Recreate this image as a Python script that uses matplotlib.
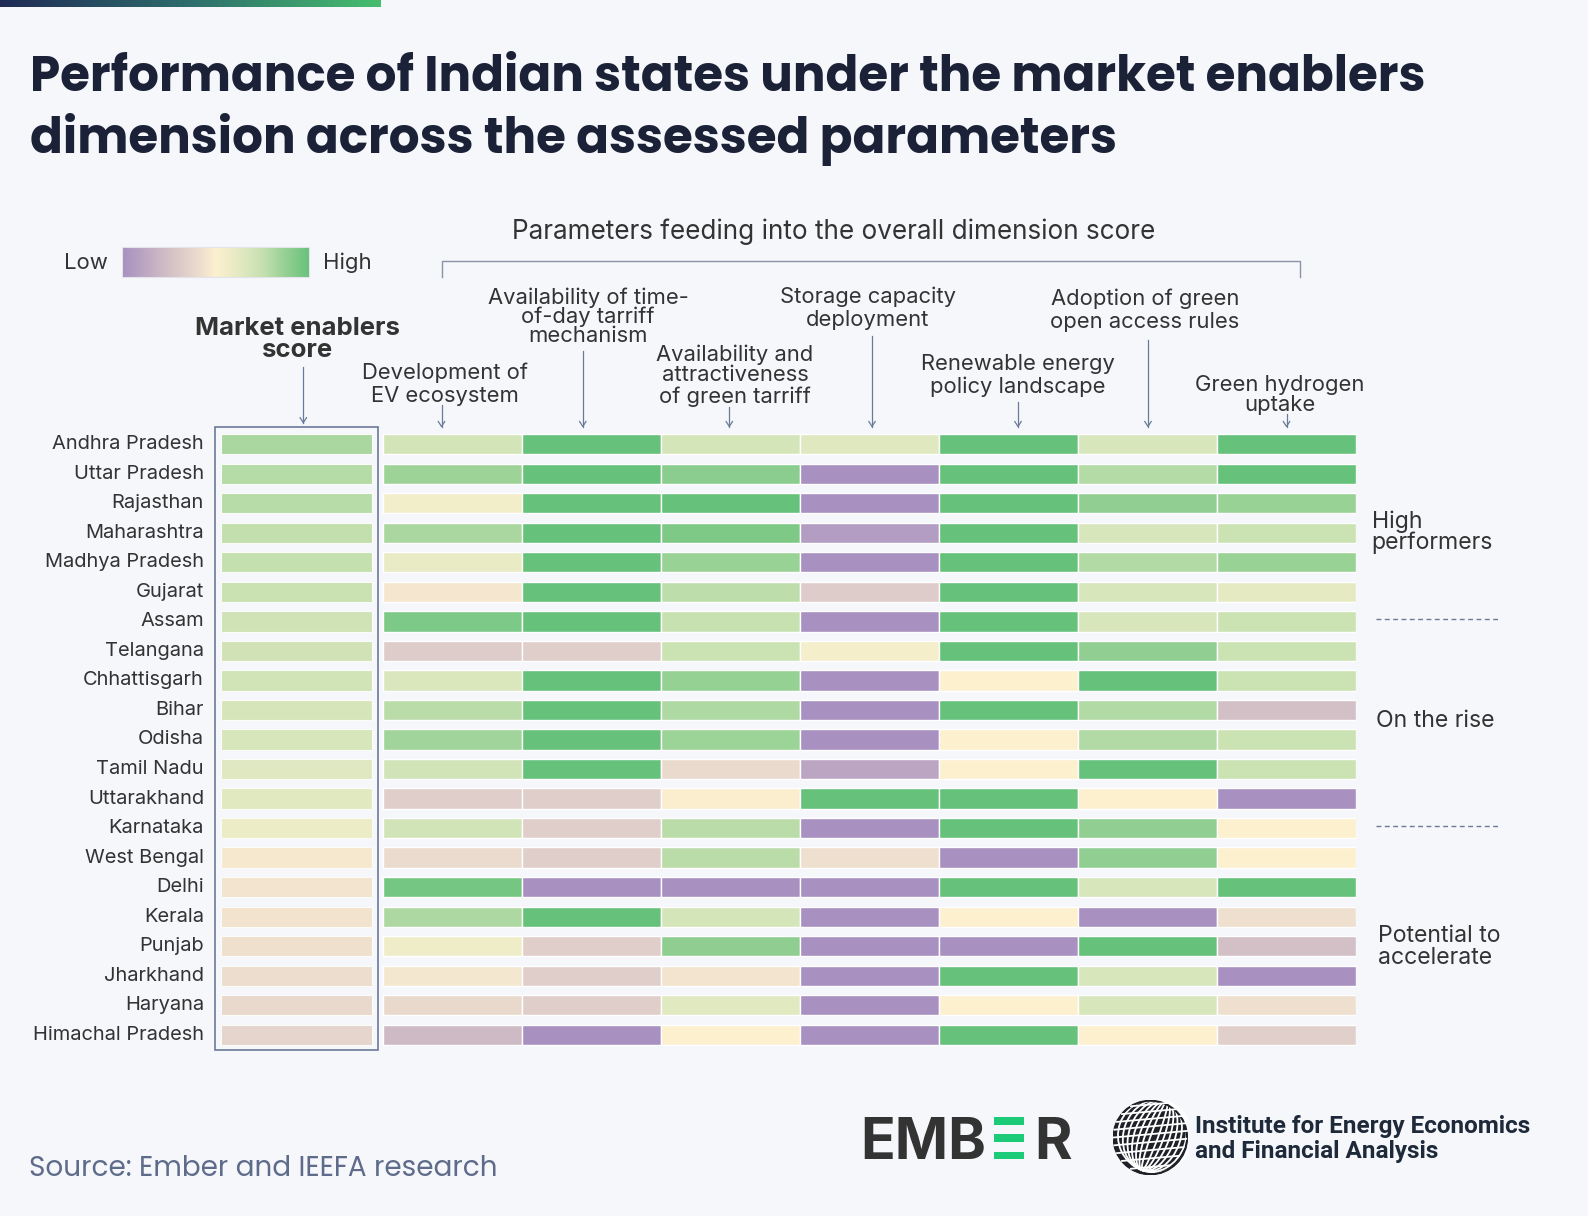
import numpy as np
import matplotlib.pyplot as plt
from matplotlib.colors import LinearSegmentedColormap
from matplotlib.patches import Rectangle, Circle, Ellipse

W, H = 1588, 1216
BG = '#F5F7FB'
DARK = '#333333'
LINE = '#6B7A99'

# data: colour position of each cell on the Low (0) -> High (1) scale
states = ['Andhra Pradesh', 'Uttar Pradesh', 'Rajasthan', 'Maharashtra', 'Madhya Pradesh',
          'Gujarat', 'Assam', 'Telangana', 'Chhattisgarh', 'Bihar', 'Odisha', 'Tamil Nadu',
          'Uttarakhand', 'Karnataka', 'West Bengal', 'Delhi', 'Kerala', 'Punjab',
          'Jharkhand', 'Haryana', 'Himachal Pradesh']

market_score = [0.82, 0.79, 0.785, 0.76, 0.75, 0.733, 0.708, 0.704, 0.70, 0.679, 0.675,
                0.641, 0.637, 0.583, 0.462, 0.443, 0.438, 0.424, 0.41, 0.39, 0.367]
ev_ecosystem = [0.695, 0.85, 0.547, 0.82, 0.60, 0.45, 0.935, 0.32, 0.665, 0.78, 0.84,
                0.70, 0.33, 0.70, 0.40, 0.96, 0.81, 0.57, 0.455, 0.39, 0.22]
tod_tariff = [1, 1, 1, 1, 1, 1, 1, 0.33, 1, 1, 1, 1, 0.33, 0.33, 0.33, 0, 1, 0.33,
              0.33, 0.33, 0]
green_tariff = [0.69, 0.9, 1.0, 0.93, 0.86, 0.77, 0.74, 0.73, 0.87, 0.805, 0.855, 0.395,
                0.49, 0.78, 0.78, 0, 0.69, 0.89, 0.443, 0.64, 0.5]
storage = [0.645, 0, 0, 0.07, 0, 0.32, 0, 0.54, 0, 0, 0, 0.11, 1, 0, 0.42, 0, 0, 0, 0, 0, 0]
re_policy = [1, 1, 1, 1, 1, 1, 1, 1, 0.5, 1, 0.5, 0.5, 1, 1, 0, 1, 0.5, 0, 1, 0.5, 1]
open_access = [0.675, 0.795, 0.885, 0.675, 0.8, 0.675, 0.675, 0.885, 1, 0.8, 0.8, 1, 0.5,
               0.885, 0.885, 0.675, 0, 1, 0.675, 0.675, 0.5]
hydrogen = [1, 1, 0.86, 0.73, 0.86, 0.62, 0.73, 0.73, 0.73, 0.25, 0.73, 0.73, 0, 0.5, 0.5,
            1, 0.42, 0.25, 0, 0.42, 0.335]

params = [ev_ecosystem, tod_tariff, green_tariff, storage, re_policy, open_access, hydrogen]

param_labels = [
    (['Development of', 'EV ecosystem'], 445, [373, 396]),
    (['Availability of time-', 'of-day tarriff', 'mechanism'], 588, [298, 317, 336]),
    (['Availability and', 'attractiveness', 'of green tarriff'], 735, [355, 375, 397]),
    (['Storage capacity', 'deployment'], 868, [297, 320]),
    (['Renewable energy', 'policy landscape'], 1018, [364, 387]),
    (['Adoption of green', 'open access rules'], 1145, [299, 322]),
    (['Green hydrogen', 'uptake'], 1280, [385, 405]),
]
arrows = [(441.5, 405), (582.8, 351), (729.3, 407), (872, 336), (1018, 402),
          (1148, 340), (1286.5, 414)]

cmap = LinearSegmentedColormap.from_list('lowhigh', [
    (0, '#A890C0'), (0.25, '#D3C0C6'), (0.4, '#EBDBCE'), (0.5, '#FCF0CF'),
    (0.62, '#E5EAC3'), (0.75, '#C6E0B0'), (0.86, '#9AD296'), (1, '#66C17A')])

plt.rcParams['font.family'] = ['Inter', 'DejaVu Sans']
TITLE_FONT = ['Poppins', 'Lato', 'Inter', 'DejaVu Sans']

fig = plt.figure(figsize=(W / 100, H / 100), dpi=100, facecolor=BG)
renderer = fig.canvas.get_renderer()


def fx(x):
    return x / W


def fy(y):
    return 1 - y / H


def fit(t, width):
    bb = t.get_window_extent(renderer)
    t.set_fontsize(t.get_fontsize() * width / bb.width)
    return t.get_fontsize()


# top gradient strip
ax_bar = fig.add_axes([0, fy(7.3), fx(381), 7.3 / H])
strip = LinearSegmentedColormap.from_list('strip', ['#1F2A55', '#2E6E6C', '#46BE6E'])
ax_bar.imshow(np.linspace(0, 1, 256)[None, :], cmap=strip, aspect='auto')
ax_bar.axis('off')

# title
t1 = fig.text(fx(30), fy(91), 'Performance of Indian states under the market enablers',
              fontsize=36, fontweight='bold', color='#1B2238', family=TITLE_FONT,
              va='baseline')
fs = fit(t1, 1396)
fig.text(fx(30), fy(153), 'dimension across the assessed parameters', fontsize=fs,
         fontweight='bold', color='#1B2238', family=TITLE_FONT, va='baseline')

# header over the parameters + bracket
th = fig.text(fx(833.5), fy(232), 'Parameters feeding into the overall dimension score',
              fontsize=16, color=DARK, ha='center', va='center')
fit(th, 645)
fig.add_artist(plt.Line2D([fx(441.5), fx(441.5), fx(1300.4), fx(1300.4)],
                          [fy(276.5), fy(261.3), fy(261.3), fy(276.5)],
                          color='#8A93A8', lw=1.0))

# legend gradient
ax_leg = fig.add_axes([fx(122), fy(276.7), fx(309.3) - fx(122), 30 / H])
ax_leg.imshow(np.linspace(0, 1, 256)[None, :], cmap=cmap, aspect='auto')
ax_leg.set_xticks([])
ax_leg.set_yticks([])
for s in ax_leg.spines.values():
    s.set_color('#E2E4EA')
tl = fig.text(fx(107.7), fy(263), 'Low', fontsize=15, color=DARK, ha='right', va='center')
lfs = fit(tl, 43.7)
fig.text(fx(322.7), fy(263), 'High', fontsize=lfs, color=DARK, ha='left', va='center')

# score header
tm = fig.text(fx(297.5), fy(328.3), 'Market enablers', fontsize=16, fontweight='bold',
              color=DARK, ha='center', va='center')
mfs = fit(tm, 205)
fig.text(fx(297.5), fy(350.7), 'score', fontsize=mfs, fontweight='bold', color=DARK,
         ha='center', va='center')


def arrow(x, y0, y1):
    fig.add_artist(plt.Line2D([fx(x), fx(x)], [fy(y0), fy(y1)], color=LINE, lw=0.9))
    fig.add_artist(plt.Line2D([fx(x - 3.2), fx(x), fx(x + 3.2)],
                              [fy(y1 - 5), fy(y1), fy(y1 - 5)], color=LINE, lw=0.9))


arrow(303.3, 366.7, 422.7)

# parameter labels
tp = fig.text(0, 0, 'Storage capacity', fontsize=14)
pfs = fit(tp, 176)
tp.remove()
for lines, x, ys in param_labels:
    for txt, y in zip(lines, ys):
        fig.text(fx(x), fy(y), txt, fontsize=pfs, color=DARK, ha='center', va='center')
for x, y0 in arrows:
    arrow(x, y0, 426.5)

# heatmap
col_w = 138.97
x0 = -(383 - 221) / col_w
ax = fig.add_axes([fx(221), fy(1049.6), fx(1355.8) - fx(221), (1049.6 - 429.4) / H])
ax.set_xlim(x0, 7)
ax.set_ylim(len(states) - 0.5, -0.5)
ax.axis('off')
rows = np.arange(len(states))
ax.barh(rows, 151 / col_w, left=x0, height=0.687, color=cmap(np.array(market_score)),
        edgecolor='#FBFCF8', linewidth=0.8)
for j, vals in enumerate(params):
    ax.barh(rows, 1, left=j, height=0.687, color=cmap(np.array(vals, dtype=float)),
            edgecolor='white', linewidth=1.0)
ax.add_patch(Rectangle((-(383 - 215) / col_w, -0.58), (377.6 - 215) / col_w, 21.1,
                       fill=False, edgecolor=LINE, lw=1.2, clip_on=False))

# state names
ts = fig.text(0, 0, 'Andhra Pradesh', fontsize=13)
sfs = fit(ts, 152)
ts.remove()
for i, name in enumerate(states):
    ax.text(-(383 - 204) / col_w, i, name, fontsize=sfs, color=DARK, ha='right',
            va='center')

# group labels on the right
gt = fig.text(fx(1371.7), fy(542.7), 'performers', fontsize=15, color=DARK, va='center')
gfs = fit(gt, 122)
fig.text(fx(1371.7), fy(521.5), 'High', fontsize=gfs, color=DARK, va='center')
fig.text(fx(1376), fy(720.7), 'On the rise', fontsize=gfs, color=DARK, va='center')
fig.text(fx(1377.7), fy(936.5), 'Potential to', fontsize=gfs, color=DARK, va='center')
fig.text(fx(1377.7), fy(958.5), 'accelerate', fontsize=gfs, color=DARK, va='center')
for y in (619.3, 825.7):
    fig.add_artist(plt.Line2D([fx(1376), fx(1500)], [fy(y), fy(y)], color=LINE, lw=1.0,
                              linestyle=(0, (3.5, 2.5))))

# source
tsrc = fig.text(fx(29.3), fy(1175.7), 'Source: Ember and IEEFA research', fontsize=20,
                color='#5E6B8A', family=TITLE_FONT, va='baseline')
fit(tsrc, 469)

# EMBER logo
te = fig.text(fx(986), fy(1159.3), 'EMB', fontsize=40, fontweight='bold', color='#333333',
              ha='right', va='baseline')
fit(te, 126)
efs = te.get_fontsize()
fig.text(fx(1034.7), fy(1159.3), 'R', fontsize=efs, fontweight='bold', color='#333333',
         ha='left', va='baseline')
for yb in (1116.7, 1134.3, 1151.5):
    fig.add_artist(Rectangle((fx(993.7), fy(yb + 7.8)), fx(30.2), 7.8 / H,
                             facecolor='#1CCB78', edgecolor='none'))

# IEEFA globe + name
ax_g = fig.add_axes([fx(1112.6), fy(1175), fx(75.4), 75 / H])
ax_g.set_xlim(-1.02, 1.02)
ax_g.set_ylim(-1.02, 1.02)
ax_g.set_aspect('equal')
ax_g.axis('off')
ax_g.add_patch(Circle((0, 0), 1, facecolor='#1E2228', edgecolor='#1E2228'))
for w in np.linspace(0.1, 1.0, 7):
    ax_g.add_patch(Ellipse((0.12, 0.05), 2 * w, 2, angle=-20, fill=False,
                           edgecolor='white', lw=1.3))
for yy in np.linspace(-0.85, 0.85, 9):
    xx = np.sqrt(max(1 - yy ** 2, 0))
    ax_g.plot([-xx, xx], [yy, yy + 0.18 * xx], color='white', lw=1.3)
ax_g.add_patch(Circle((0, 0), 1, fill=False, edgecolor='#1E2228', lw=1.5))
ti = fig.text(fx(1195), fy(1126.7), 'Institute for Energy Economics', fontsize=17,
              fontweight='bold', color='#1E2A3A', va='center',
              family=['Liberation Sans Narrow', 'Roboto', 'DejaVu Sans'])
ifs = fit(ti, 335)
fig.text(fx(1195), fy(1151.7), 'and Financial Analysis', fontsize=ifs, fontweight='bold',
         color='#1E2A3A', va='center',
         family=['Liberation Sans Narrow', 'Roboto', 'DejaVu Sans'])

fig.savefig('out.png', dpi=100, facecolor=BG)
